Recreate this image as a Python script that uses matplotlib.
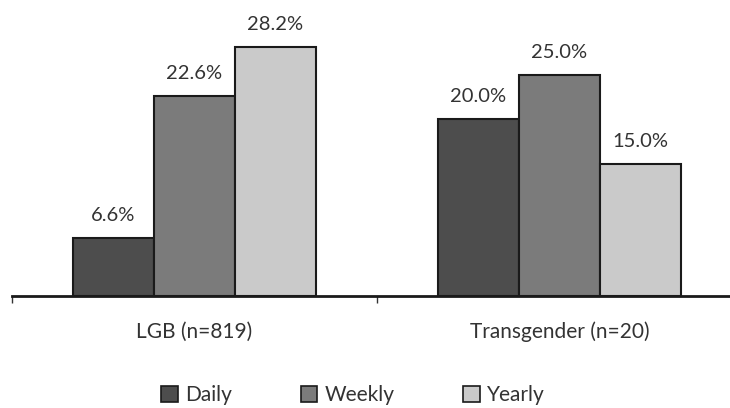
import matplotlib.pyplot as plt
from matplotlib.patches import Patch
import numpy as np

plt.rcParams['font.family'] = ['Lato', 'DejaVu Sans']

categories = ["LGB (n=819)", "Transgender (n=20)"]
series = ["Daily", "Weekly", "Yearly"]
values = {
    "Daily": [6.6, 20.0],
    "Weekly": [22.6, 25.0],
    "Yearly": [28.2, 15.0],
}
colors = {"Daily": "#4d4d4d", "Weekly": "#7b7b7b", "Yearly": "#cacaca"}
text_color = "#333333"

fig = plt.figure(figsize=(7.30, 4.08), dpi=100)
ax = fig.add_axes([12 / 730, (408 - 296) / 408, 718 / 730, (296 - 31) / 408])

x = np.arange(len(categories))
width = 0.222
offsets = [-width, 0, width]
for s, off in zip(series, offsets):
    bars = ax.bar(x + off, values[s], width=width, color=colors[s],
                  edgecolor="#1a1a1a", linewidth=1.5, zorder=2)
    for b, v in zip(bars, values[s]):
        ax.annotate(f"{v:.1f}%", (b.get_x() + b.get_width() / 2, v),
                    xytext=(0, 10), textcoords="offset points",
                    ha="center", va="bottom", fontsize=14.5, color=text_color)

ax.set_xlim(-0.5, -0.5 + 718 / 365)
ax.set_ylim(0, 30)
for side in ("left", "right", "top"):
    ax.spines[side].set_visible(False)
ax.spines["bottom"].set_linewidth(2)
ax.spines["bottom"].set_color("#1a1a1a")
ax.set_yticks([])
ax.set_xticks([-0.5, 0.5])
ax.set_xticklabels(["", ""])
ax.tick_params(axis="x", direction="out", length=5, width=1, color="#333333")
for xi, c in zip(x, categories):
    ax.text(xi, -36 / 265, c, transform=ax.get_xaxis_transform(), ha="center",
            va="center", fontsize=15, color=text_color)

handles = [Patch(facecolor=colors[s], edgecolor="#1a1a1a", linewidth=1.2, label=s)
           for s in series]
fig.legend(handles=handles, loc="center", bbox_to_anchor=(353 / 730, 1 - 395 / 408),
           ncol=3, frameon=False, fontsize=15, columnspacing=3.3,
           handlelength=0.8, handleheight=0.8, handletextpad=0.35, labelcolor=text_color)

fig.savefig("out.png", dpi=100)
